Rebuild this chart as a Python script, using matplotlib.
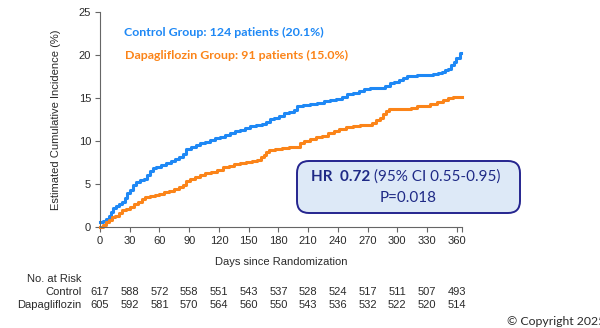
import matplotlib
matplotlib.use('Agg')
import matplotlib.pyplot as plt
from matplotlib.patches import FancyBboxPatch
from matplotlib.transforms import blended_transform_factory

plt.rcParams['font.family'] = ['Liberation Sans', 'DejaVu Sans']

# cumulative incidence (step curves)
ctrl_days = [0, 3, 6, 9, 11, 13, 16, 19, 22, 25,
             27, 30, 33, 36, 40, 44, 47, 50, 53, 57,
             62, 67, 72, 76, 80, 84, 87, 92, 97, 101,
             106, 111, 116, 121, 126, 131, 136, 141, 146, 151,
             157, 163, 168, 172, 176, 181, 186, 191, 196, 199,
             205, 212, 219, 226, 232, 238, 244, 249, 255, 261,
             266, 272, 280, 288, 293, 297, 302, 306, 310, 313,
             320, 328, 336, 341, 345, 348, 351, 354, 357, 359,
             361, 363, 364]
ctrl_inc = [0.5, 0.7, 0.9, 1.2, 1.7, 2.2, 2.4, 2.6, 2.9, 3.3,
            3.9, 4.3, 4.8, 5.2, 5.4, 5.6, 6.0, 6.5, 6.8, 7.0,
            7.2, 7.4, 7.7, 7.9, 8.1, 8.5, 9.1, 9.3, 9.5, 9.7,
            9.9, 10.1, 10.3, 10.5, 10.7, 10.9, 11.1, 11.3, 11.5, 11.7,
            11.8, 12.0, 12.2, 12.5, 12.7, 12.9, 13.2, 13.4, 13.6, 14.1,
            14.2, 14.3, 14.4, 14.6, 14.7, 14.9, 15.1, 15.4, 15.6, 15.8,
            16.0, 16.1, 16.2, 16.4, 16.7, 16.9, 17.1, 17.3, 17.5, 17.6,
            17.7, 17.7, 17.8, 17.9, 18.0, 18.2, 18.4, 18.8, 19.2, 19.6,
            19.7, 20.2, 20.2]

dapa_days = [0, 3, 6, 9, 12, 15, 19, 22, 26, 30,
             34, 38, 42, 45, 50, 55, 60, 65, 70, 75,
             80, 84, 87, 91, 96, 101, 106, 112, 118, 124,
             130, 135, 141, 147, 153, 158, 162, 165, 168, 171,
             177, 184, 191, 198, 202, 206, 212, 218, 224, 230,
             236, 241, 248, 255, 262, 268, 274, 279, 283, 286,
             289, 292, 300, 308, 314, 320, 326, 333, 340, 346,
             351, 356, 365]
dapa_inc = [0.0, 0.2, 0.5, 0.8, 1.1, 1.3, 1.6, 1.9, 2.1, 2.3,
            2.6, 2.9, 3.2, 3.5, 3.6, 3.7, 3.8, 4.0, 4.2, 4.4,
            4.6, 4.8, 5.3, 5.6, 5.8, 6.0, 6.2, 6.4, 6.6, 6.9,
            7.1, 7.3, 7.4, 7.5, 7.6, 7.8, 8.1, 8.4, 8.7, 8.9,
            9.0, 9.2, 9.3, 9.3, 9.7, 10.0, 10.2, 10.4, 10.6, 10.9,
            11.1, 11.4, 11.6, 11.7, 11.8, 11.9, 12.1, 12.4, 12.7, 13.1,
            13.5, 13.7, 13.7, 13.7, 13.8, 14.0, 14.1, 14.3, 14.5, 14.8,
            15.0, 15.1, 15.1]

risk_days = [0, 30, 60, 90, 120, 150, 180, 210, 240, 270, 300, 330, 360]
risk_ctrl = [617, 588, 572, 558, 551, 543, 537, 528, 524, 517, 511, 507, 493]
risk_dapa = [605, 592, 581, 570, 564, 560, 550, 543, 536, 532, 522, 520, 514]

ctrl_label = 'Control Group: 124 patients (20.1%)'
dapa_label = 'Dapagliflozin Group: 91 patients (15.0%)'

BLUE = '#1e88f5'
ORANGE = '#fb8419'
NAVY = '#1f2a86'
AXC = '#666666'
TXT = '#2a2a2a'

W, H = 600, 328


def fx(px):
    return px / W


def fy(py):
    return 1 - py / H


fig = plt.figure(figsize=(6, 3.28), dpi=100)
ax = fig.add_axes([fx(100), fy(226.7), 361.7 / W, (226.7 - 12) / H])

ax.step(ctrl_days, ctrl_inc, where='post', color=BLUE, lw=2.2, clip_on=False)
ax.step(dapa_days, dapa_inc, where='post', color=ORANGE, lw=2.2, clip_on=False)

ax.set_xlim(0, 365)
ax.set_ylim(0, 25)
ax.set_xticks(risk_days + [365], [str(d) for d in risk_days] + [''])
ax.set_yticks([0, 5, 10, 15, 20, 25])
for s in ['top', 'right']:
    ax.spines[s].set_visible(False)
for s in ['left', 'bottom']:
    ax.spines[s].set_color(AXC)
    ax.spines[s].set_linewidth(0.8)
ax.tick_params(direction='out', length=3.5, width=0.8, color=AXC,
               labelsize=8, labelcolor=TXT, pad=3)

ax.set_ylabel('Estimated Cumulative Incidence (%)', fontsize=8, color=TXT)
ax.yaxis.set_label_coords(-0.108, 0.5)
ax.set_xlabel('Days since Randomization', fontsize=8, color=TXT)
ax.xaxis.set_label_coords(0.5, -0.141)

# group labels
fig.text(fx(124), fy(32.3), ctrl_label, color=BLUE, fontsize=8.9,
         fontweight='bold', family='Lato', va='center', ha='left')
fig.text(fx(125), fy(55.7), dapa_label, color=ORANGE, fontsize=8.9,
         fontweight='bold', family='Lato', va='center', ha='left')

# HR box
box = FancyBboxPatch((fx(297), fy(213)), fx(520) - fx(297), (213 - 161) / H,
                     boxstyle='round,pad=0,rounding_size=0.02',
                     transform=fig.transFigure, facecolor='#dde9f7',
                     edgecolor='#25258f', linewidth=1.4, mutation_aspect=1.83)
fig.add_artist(box)
fig.text(fx(370), fy(177), 'HR  0.72', color=NAVY, fontsize=11,
         fontweight='bold', family='Lato', va='center', ha='right')
fig.text(fx(374), fy(177), '(95% CI 0.55-0.95)', color=NAVY, fontsize=11,
         family='Lato', va='center', ha='left')
fig.text(fx(408.5), fy(198.5), 'P=0.018', color=NAVY, fontsize=11,
         family='Lato', va='center', ha='center')

# number at risk table
trans = blended_transform_factory(ax.transData, fig.transFigure)
fig.text(fx(81.6), fy(278.7), 'No. at Risk', fontsize=8, color=TXT,
         ha='right', va='center')
fig.text(fx(81.6), fy(291.7), 'Control', fontsize=8, color=TXT,
         ha='right', va='center')
fig.text(fx(81.6), fy(304.5), 'Dapagliflozin', fontsize=8, color=TXT,
         ha='right', va='center')
for d, c, p in zip(risk_days, risk_ctrl, risk_dapa):
    ax.text(d, fy(291.7), str(c), transform=trans, fontsize=8, color=TXT,
            ha='center', va='center', clip_on=False)
    ax.text(d, fy(304.5), str(p), transform=trans, fontsize=8, color=TXT,
            ha='center', va='center', clip_on=False)

fig.text(fx(507), fy(321.7), '\u00a9 Copyright 2025', fontsize=8.8,
         family='Lato', color=TXT, ha='left', va='center')

fig.savefig('out.png', dpi=100)
